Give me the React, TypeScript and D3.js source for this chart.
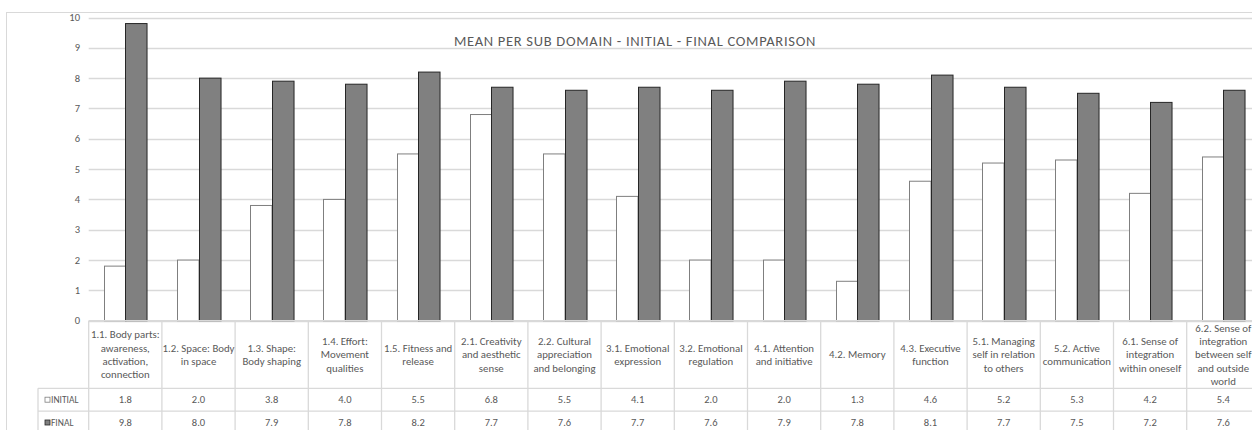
import React from "react";
import * as d3 from "d3";

// Sub-domain labels, with the line breaks used in the data table
const categories: string[] = [
  "1.1. Body parts:\nawareness,\nactivation,\nconnection",
  "1.2. Space: Body\nin space",
  "1.3. Shape:\nBody shaping",
  "1.4. Effort:\nMovement\nqualities",
  "1.5. Fitness and\nrelease",
  "2.1. Creativity\nand aesthetic\nsense",
  "2.2. Cultural\nappreciation\nand belonging",
  "3.1. Emotional\nexpression",
  "3.2. Emotional\nregulation",
  "4.1. Attention\nand initiative",
  "4.2. Memory",
  "4.3. Executive\nfunction",
  "5.1. Managing\nself in relation\nto others",
  "5.2. Active\ncommunication",
  "6.1. Sense of\nintegration\nwithin oneself",
  "6.2. Sense of\nintegration\nbetween self\nand outside\nworld",
];

const initialValues: number[] = [1.8, 2.0, 3.8, 4.0, 5.5, 6.8, 5.5, 4.1, 2.0, 2.0, 1.3, 4.6, 5.2, 5.3, 4.2, 5.4];
const finalValues: number[] = [9.8, 8.0, 7.9, 7.8, 8.2, 7.7, 7.6, 7.7, 7.6, 7.9, 7.8, 8.1, 7.7, 7.5, 7.2, 7.6];

const seriesNames: string[] = ["INITIAL", "FINAL"];
const yTicks: number[] = [0, 1, 2, 3, 4, 5, 6, 7, 8, 9, 10];

const title = "MEAN PER SUB DOMAIN - INITIAL - FINAL COMPARISON";

const W = 1252;
const H = 430;
const FONT = "Carlito, Calibri, Lato, 'Open Sans', sans-serif";
const GRID = "#d9d9d9";
const TEXT = "#595959";

const plotLeft = 88.7;
const colW = 73.2;
const plotTop = 17.5;
const plotBottom = 320.7;
const headerBottom = 388.3;
const rowH = 22.8;
const legendLeft = 38;

export default function App() {
  const x = d3
    .scaleBand<string>()
    .domain(categories)
    .range([plotLeft, plotLeft + colW * categories.length])
    .paddingInner(0)
    .paddingOuter(0);

  const xSub = d3
    .scaleBand<string>()
    .domain(seriesNames)
    .range([0, x.bandwidth()])
    .paddingInner(0)
    .paddingOuter(0.7);

  const y = d3.scaleLinear().domain([0, 10]).range([plotBottom, plotTop]);

  const series = [
    { name: "INITIAL", values: initialValues, fill: "#ffffff", stroke: "#7f7f7f" },
    { name: "FINAL", values: finalValues, fill: "#808080", stroke: "#262626" },
  ];

  const tableRight = plotLeft + colW * categories.length;
  const rows = series.map((s, i) => ({
    ...s,
    top: headerBottom + i * rowH,
    bottom: headerBottom + (i + 1) * rowH,
  }));
  const lineH = 13.3;

  return (
    <svg
      width={W}
      height={H}
      style={{ position: "absolute", left: 0, top: 0, background: "#fff" }}
      fontFamily={FONT}
    >
      {/* chart frame */}
      <rect x={6.5} y={12.5} width={W + 10} height={H + 10} fill="#fff" stroke={GRID} />

      {/* horizontal gridlines */}
      {yTicks.map((t) => (
        <line
          key={"g" + t}
          x1={plotLeft}
          x2={tableRight}
          y1={Math.round(y(t)) + 0.5}
          y2={Math.round(y(t)) + 0.5}
          stroke={GRID}
          strokeWidth={1.3}
        />
      ))}

      {/* y tick labels */}
      {yTicks.map((t) => (
        <text
          key={"t" + t}
          x={80}
          y={y(t)}
          dy="0.35em"
          textAnchor="end"
          fontSize={10.5}
          fill={TEXT}
        >
          {t}
        </text>
      ))}

      {/* title */}
      <text x={635} y={46} textAnchor="middle" fontSize={14.5} letterSpacing={0.7} fill={TEXT}>
        {title}
      </text>

      {/* bars */}
      {series.map((s) =>
        categories.map((c, i) => {
          const bx = (x(c) as number) + (xSub(s.name) as number);
          const by = y(s.values[i]);
          return (
            <rect
              key={s.name + i}
              x={Math.round(bx) + 0.5}
              y={by}
              width={xSub.bandwidth()}
              height={plotBottom - by}
              fill={s.fill}
              stroke={s.stroke}
              strokeWidth={1}
            />
          );
        })
      )}

      {/* data table */}
      <g stroke={GRID} strokeWidth={1.3}>
        <line x1={plotLeft} x2={tableRight} y1={plotBottom} y2={plotBottom} />
        <line x1={legendLeft} x2={tableRight} y1={headerBottom} y2={headerBottom} />
        {rows.map((r) => (
          <line key={"rl" + r.name} x1={legendLeft} x2={tableRight} y1={r.bottom} y2={r.bottom} />
        ))}
        <line x1={legendLeft} x2={legendLeft} y1={headerBottom} y2={H} />
        {categories.map((c, i) => (
          <line key={"vl" + i} x1={x(c) as number} x2={x(c) as number} y1={plotBottom} y2={H} />
        ))}
        <line x1={tableRight} x2={tableRight} y1={plotBottom} y2={H} />
      </g>

      {/* category header cells */}
      {categories.map((c) => {
        const lines = c.split("\n");
        const cx = (x(c) as number) + x.bandwidth() / 2;
        const mid = (plotBottom + headerBottom) / 2;
        const start = mid - ((lines.length - 1) * lineH) / 2;
        return (
          <text key={"c" + c} textAnchor="middle" fontSize={10.8} fill={TEXT}>
            {lines.map((l, k) => (
              <tspan key={k} x={cx} y={start + k * lineH} dy="0.35em">
                {l}
              </tspan>
            ))}
          </text>
        );
      })}

      {/* series rows */}
      {rows.map((r) => {
        const mid = (r.top + r.bottom) / 2;
        return (
          <g key={"row" + r.name}>
            <rect x={45} y={mid - 2.5} width={5} height={5} fill={r.fill} stroke={r.stroke} strokeWidth={0.8} />
            <text x={51} y={mid} dy="0.35em" fontSize={9.5} fill={TEXT}>
              {r.name}
            </text>
            {r.values.map((v, i) => (
              <text
                key={i}
                x={(x(categories[i]) as number) + x.bandwidth() / 2}
                y={mid}
                dy="0.35em"
                textAnchor="middle"
                fontSize={10.5}
                fill={TEXT}
              >
                {v.toFixed(1)}
              </text>
            ))}
          </g>
        );
      })}
    </svg>
  );
}
